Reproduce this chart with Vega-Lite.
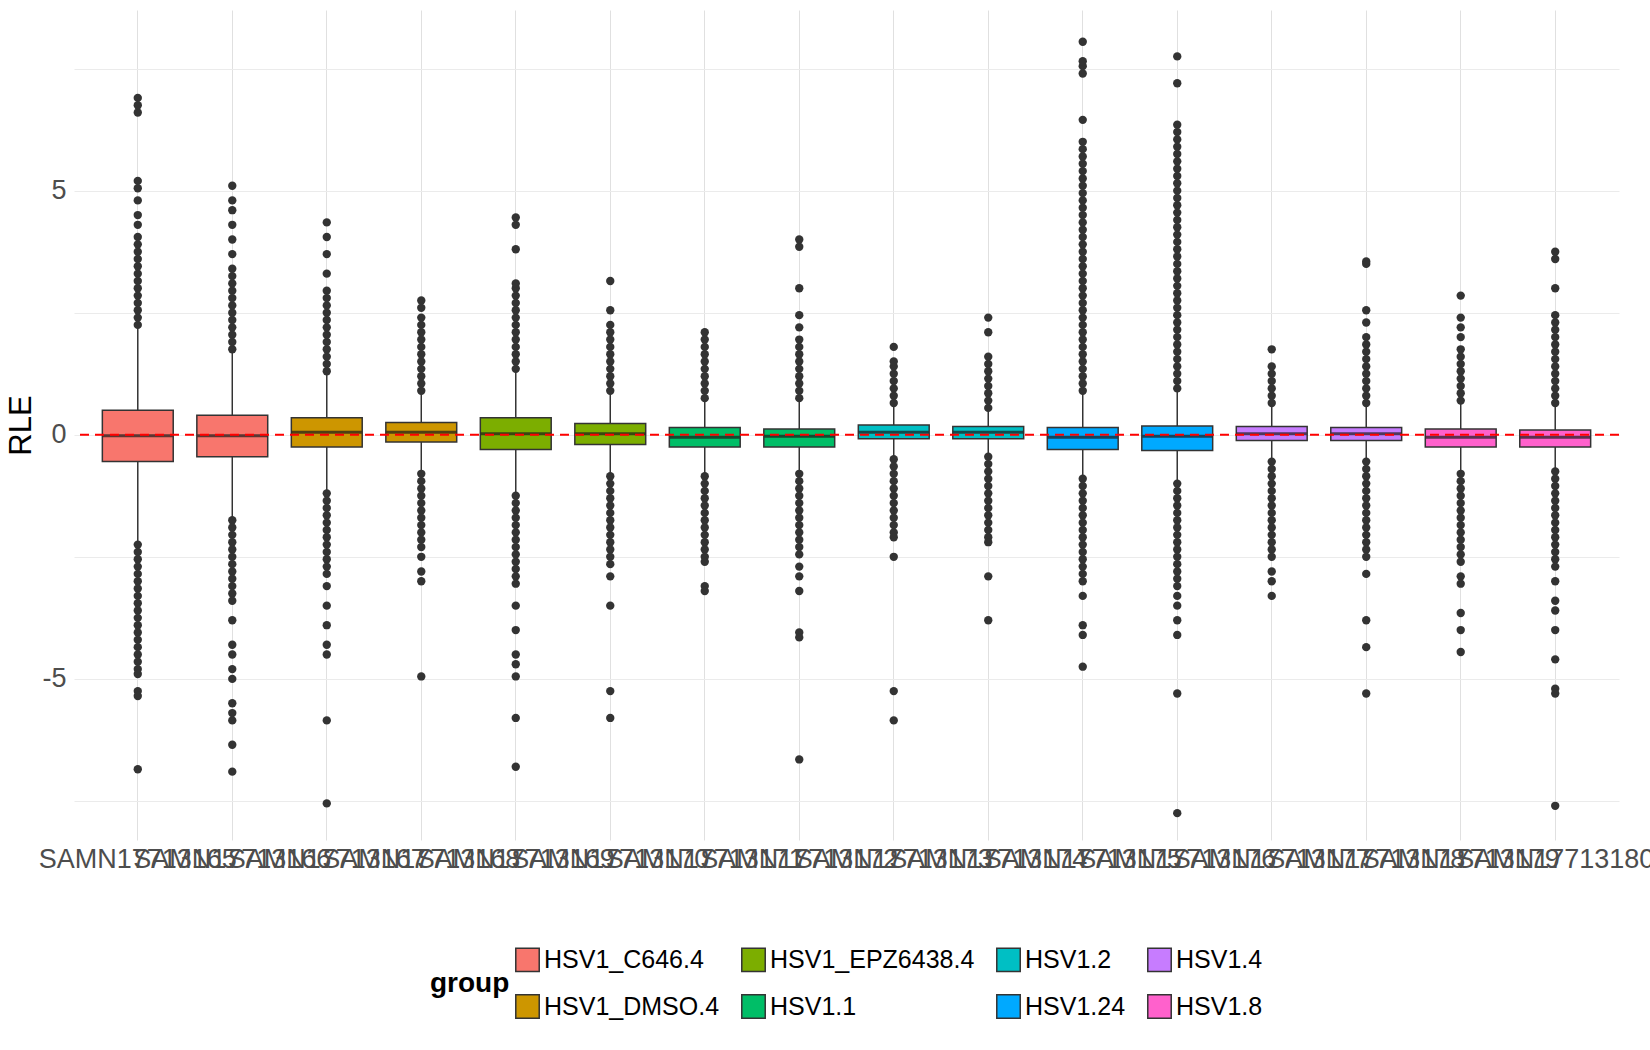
{
  "$schema": "https://vega.github.io/schema/vega-lite/v6.json",
  "width": 1545,
  "height": 830,
  "padding": {"left": 5, "top": 10, "right": 10, "bottom": 5},
  "background": "white",
  "datasets": {
    "box": [
      {"s": "SAMN17713165", "g": "HSV1_C646.4", "lo": -2.2, "q1": -0.55, "med": -0.02, "q3": 0.5, "hi": 2.2},
      {"s": "SAMN17713166", "g": "HSV1_C646.4", "lo": -1.7, "q1": -0.45, "med": -0.02, "q3": 0.4, "hi": 1.7},
      {"s": "SAMN17713167", "g": "HSV1_DMSO.4", "lo": -1.15, "q1": -0.25, "med": 0.05, "q3": 0.35, "hi": 1.25},
      {"s": "SAMN17713168", "g": "HSV1_DMSO.4", "lo": -0.75, "q1": -0.15, "med": 0.05, "q3": 0.25, "hi": 0.85},
      {"s": "SAMN17713169", "g": "HSV1_EPZ6438.4", "lo": -1.2, "q1": -0.3, "med": 0.02, "q3": 0.35, "hi": 1.3},
      {"s": "SAMN17713170", "g": "HSV1_EPZ6438.4", "lo": -0.8, "q1": -0.2, "med": 0.02, "q3": 0.23, "hi": 0.85},
      {"s": "SAMN17713171", "g": "HSV1.1", "lo": -0.8, "q1": -0.25, "med": -0.05, "q3": 0.15, "hi": 0.7},
      {"s": "SAMN17713172", "g": "HSV1.1", "lo": -0.75, "q1": -0.25, "med": -0.03, "q3": 0.12, "hi": 0.7},
      {"s": "SAMN17713173", "g": "HSV1.2", "lo": -0.45, "q1": -0.08, "med": 0.05, "q3": 0.2, "hi": 0.6},
      {"s": "SAMN17713174", "g": "HSV1.2", "lo": -0.4, "q1": -0.08, "med": 0.05, "q3": 0.17, "hi": 0.5},
      {"s": "SAMN17713175", "g": "HSV1.24", "lo": -0.85, "q1": -0.3, "med": -0.05, "q3": 0.15, "hi": 0.85},
      {"s": "SAMN17713176", "g": "HSV1.24", "lo": -0.95, "q1": -0.32, "med": -0.03, "q3": 0.18, "hi": 0.9},
      {"s": "SAMN17713177", "g": "HSV1.4", "lo": -0.5, "q1": -0.12, "med": 0.02, "q3": 0.17, "hi": 0.6},
      {"s": "SAMN17713178", "g": "HSV1.4", "lo": -0.5, "q1": -0.12, "med": 0.02, "q3": 0.15, "hi": 0.6},
      {"s": "SAMN17713179", "g": "HSV1.8", "lo": -0.75, "q1": -0.25, "med": -0.05, "q3": 0.12, "hi": 0.65},
      {"s": "SAMN17713180", "g": "HSV1.8", "lo": -0.7, "q1": -0.25, "med": -0.05, "q3": 0.1, "hi": 0.6}
    ],
    "out": [
      {"s": "SAMN17713165", "v": [2.25,2.4,2.55,2.7,2.85,3,3.15,3.3,3.45,3.6,3.75,3.9,4.05,4.3,4.5,4.8,5.05,5.2,6.6,6.75,6.9,-2.25,-2.4,-2.55,-2.7,-2.85,-3,-3.15,-3.3,-3.45,-3.6,-3.75,-3.9,-4.05,-4.2,-4.35,-4.5,-4.65,-4.8,-4.9,-5.25,-5.35,-6.85]},
      {"s": "SAMN17713166", "v": [1.75,1.9,2.05,2.2,2.35,2.5,2.65,2.8,2.95,3.1,3.25,3.4,3.7,4.0,4.3,4.6,4.8,5.1,-1.75,-1.9,-2.05,-2.2,-2.35,-2.5,-2.65,-2.8,-2.95,-3.1,-3.25,-3.4,-3.8,-4.3,-4.5,-4.8,-5.0,-5.5,-5.7,-5.85,-6.35,-6.9]},
      {"s": "SAMN17713167", "v": [1.3,1.45,1.6,1.75,1.9,2.05,2.2,2.35,2.5,2.65,2.8,2.95,3.3,3.7,4.05,4.35,-1.2,-1.35,-1.5,-1.65,-1.8,-1.95,-2.1,-2.25,-2.4,-2.55,-2.7,-2.85,-3.1,-3.5,-3.9,-4.3,-4.5,-5.85,-7.55]},
      {"s": "SAMN17713168", "v": [0.9,1.05,1.2,1.35,1.5,1.65,1.8,1.95,2.1,2.25,2.4,2.6,2.75,-0.8,-0.95,-1.1,-1.25,-1.4,-1.55,-1.7,-1.85,-2.0,-2.15,-2.3,-2.5,-2.8,-3.0,-4.95]},
      {"s": "SAMN17713169", "v": [1.35,1.5,1.65,1.8,1.95,2.1,2.25,2.4,2.55,2.7,2.85,3.0,3.1,3.8,4.3,4.45,-1.25,-1.4,-1.55,-1.7,-1.85,-2.0,-2.15,-2.3,-2.45,-2.6,-2.75,-2.9,-3.05,-3.5,-4.0,-4.5,-4.7,-4.95,-5.8,-6.8]},
      {"s": "SAMN17713170", "v": [0.9,1.05,1.2,1.35,1.5,1.65,1.8,1.95,2.1,2.25,2.55,3.15,-0.85,-1.0,-1.15,-1.3,-1.45,-1.6,-1.75,-1.9,-2.05,-2.2,-2.35,-2.5,-2.65,-2.9,-3.5,-5.25,-5.8]},
      {"s": "SAMN17713171", "v": [0.75,0.9,1.05,1.2,1.35,1.5,1.65,1.8,1.95,2.1,-0.85,-1.0,-1.15,-1.3,-1.45,-1.6,-1.75,-1.9,-2.05,-2.2,-2.35,-2.5,-2.6,-3.1,-3.2]},
      {"s": "SAMN17713172", "v": [0.75,0.9,1.05,1.2,1.35,1.5,1.65,1.8,1.95,2.2,2.45,3.0,3.85,4.0,-0.8,-0.95,-1.1,-1.25,-1.4,-1.55,-1.7,-1.85,-2.0,-2.15,-2.3,-2.45,-2.7,-2.9,-3.2,-4.05,-4.15,-6.65]},
      {"s": "SAMN17713173", "v": [0.65,0.8,0.95,1.1,1.25,1.4,1.5,1.8,-0.5,-0.65,-0.8,-0.95,-1.1,-1.25,-1.4,-1.55,-1.7,-1.85,-2.0,-2.1,-2.5,-5.25,-5.85]},
      {"s": "SAMN17713174", "v": [0.55,0.7,0.85,1.0,1.15,1.3,1.45,1.6,2.1,2.4,-0.45,-0.6,-0.75,-0.9,-1.05,-1.2,-1.35,-1.5,-1.65,-1.8,-1.95,-2.1,-2.2,-2.9,-3.8]},
      {"s": "SAMN17713175", "v": [0.9,1.05,1.2,1.35,1.5,1.65,1.8,1.95,2.1,2.25,2.4,2.55,2.7,2.85,3.0,3.15,3.3,3.45,3.6,3.75,3.9,4.05,4.2,4.35,4.5,4.65,4.8,4.95,5.1,5.25,5.4,5.55,5.7,5.85,6.0,6.45,7.4,7.55,7.65,8.05,-0.9,-1.05,-1.2,-1.35,-1.5,-1.65,-1.8,-1.95,-2.1,-2.25,-2.4,-2.55,-2.7,-2.85,-3.0,-3.3,-3.9,-4.1,-4.75]},
      {"s": "SAMN17713176", "v": [0.95,1.1,1.25,1.4,1.55,1.7,1.85,2.0,2.15,2.3,2.45,2.6,2.75,2.9,3.05,3.2,3.35,3.5,3.65,3.8,3.95,4.1,4.25,4.4,4.55,4.7,4.85,5.0,5.15,5.3,5.45,5.6,5.75,5.9,6.05,6.2,6.35,7.2,7.75,-1.0,-1.15,-1.3,-1.45,-1.6,-1.75,-1.9,-2.05,-2.2,-2.35,-2.5,-2.65,-2.8,-2.95,-3.1,-3.3,-3.5,-3.8,-4.1,-5.3,-7.75]},
      {"s": "SAMN17713177", "v": [0.65,0.8,0.95,1.1,1.25,1.4,1.75,-0.55,-0.7,-0.85,-1.0,-1.15,-1.3,-1.45,-1.6,-1.75,-1.9,-2.05,-2.2,-2.35,-2.5,-2.8,-3.0,-3.3]},
      {"s": "SAMN17713178", "v": [0.65,0.8,0.95,1.1,1.25,1.4,1.55,1.7,1.85,2.0,2.3,2.55,3.5,3.55,-0.55,-0.7,-0.85,-1.0,-1.15,-1.3,-1.45,-1.6,-1.75,-1.9,-2.05,-2.2,-2.35,-2.5,-2.85,-3.8,-4.35,-5.3]},
      {"s": "SAMN17713179", "v": [0.7,0.85,1.0,1.15,1.3,1.45,1.6,1.75,2.0,2.2,2.4,2.85,-0.8,-0.95,-1.1,-1.25,-1.4,-1.55,-1.7,-1.85,-2.0,-2.15,-2.3,-2.45,-2.6,-2.9,-3.05,-3.65,-4.0,-4.45]},
      {"s": "SAMN17713180", "v": [0.65,0.8,0.95,1.1,1.25,1.4,1.55,1.7,1.85,2.0,2.15,2.3,2.45,3.0,3.6,3.75,-0.75,-0.9,-1.05,-1.2,-1.35,-1.5,-1.65,-1.8,-1.95,-2.1,-2.25,-2.4,-2.55,-2.7,-3.0,-3.4,-3.6,-4.0,-4.6,-5.2,-5.3,-7.6]}
    ]
  },
  "layer": [
    {
      "data": {"name": "out"},
      "transform": [{"flatten": ["v"]}],
      "mark": {"type": "circle", "size": 70, "color": "#333333", "opacity": 1},
      "encoding": {
        "x": {
          "field": "s", "type": "nominal", "sort": null, "title": null,
          "scale": {"paddingInner": 0.25, "paddingOuter": 0.3},
          "axis": {"labelAngle": 0, "labelFontSize": 27, "labelColor": "#4d4d4d", "labelLimit": 0, "grid": true, "bandPosition": 0.5, "ticks": false, "domain": false, "labelPadding": 6, "labelOverlap": false}
        },
        "y": {
          "field": "v", "type": "quantitative", "title": "RLE",
          "scale": {"domain": [-8.3, 8.7], "nice": false, "zero": false},
          "axis": {"values": [-7.5, -5, -2.5, 0, 2.5, 5, 7.5], "labelExpr": "datum.value % 5 == 0 ? datum.value : ''", "labelFontSize": 27, "labelColor": "#4d4d4d", "titleFontSize": 31, "titleFontWeight": "normal", "titleColor": "black", "ticks": false, "domain": false, "gridColor": "#ebebeb", "labelPadding": 8}
        }
      }
    },
    {
      "data": {"name": "box"},
      "mark": {"type": "rule", "color": "#333333", "strokeWidth": 1.5},
      "encoding": {"x": {"field": "s", "type": "nominal", "sort": null}, "y": {"field": "lo", "type": "quantitative"}, "y2": {"field": "hi"}}
    },
    {
      "data": {"name": "box"},
      "mark": {"type": "bar", "stroke": "#333333", "strokeWidth": 1.5, "width": {"band": 1}},
      "encoding": {
        "x": {"field": "s", "type": "nominal", "sort": null},
        "y": {"field": "q1", "type": "quantitative"},
        "y2": {"field": "q3"},
        "color": {
          "field": "g", "type": "nominal", "title": "group",
          "scale": {
            "domain": ["HSV1_C646.4", "HSV1_EPZ6438.4", "HSV1.2", "HSV1.4", "HSV1_DMSO.4", "HSV1.1", "HSV1.24", "HSV1.8"],
            "range": ["#F8766D", "#7CAE00", "#00BFC4", "#C77CFF", "#CD9600", "#00BE67", "#00A9FF", "#FF61CC"]
          },
          "legend": {"orient": "bottom", "direction": "horizontal", "columns": 4, "titleOrient": "left", "titleFontSize": 28, "titleFontWeight": "bold", "titleColor": "black", "labelFontSize": 25, "labelColor": "black", "labelLimit": 0, "symbolType": "square", "symbolSize": 550, "symbolStrokeColor": "#333333", "symbolStrokeWidth": 1.5, "rowPadding": 16, "columnPadding": 18, "offset": 75}
        }
      }
    },
    {
      "data": {"name": "box"},
      "mark": {"type": "tick", "color": "#1a1a1a", "thickness": 3},
      "encoding": {"x": {"field": "s", "type": "nominal", "sort": null}, "y": {"field": "med", "type": "quantitative"}, "size": {"value": 70}}
    },
    {
      "data": {"values": [{"z": 0}]},
      "mark": {"type": "rule", "color": "red", "strokeDash": [9, 6], "strokeWidth": 2},
      "encoding": {"y": {"field": "z", "type": "quantitative"}}
    }
  ],
  "config": {
    "font": "Liberation Sans",
    "view": {"stroke": null},
    "axis": {"gridColor": "#e0e0e0", "gridWidth": 1},
    "legend": {"layout": {"bottom": {"anchor": "middle"}}}
  }
}
